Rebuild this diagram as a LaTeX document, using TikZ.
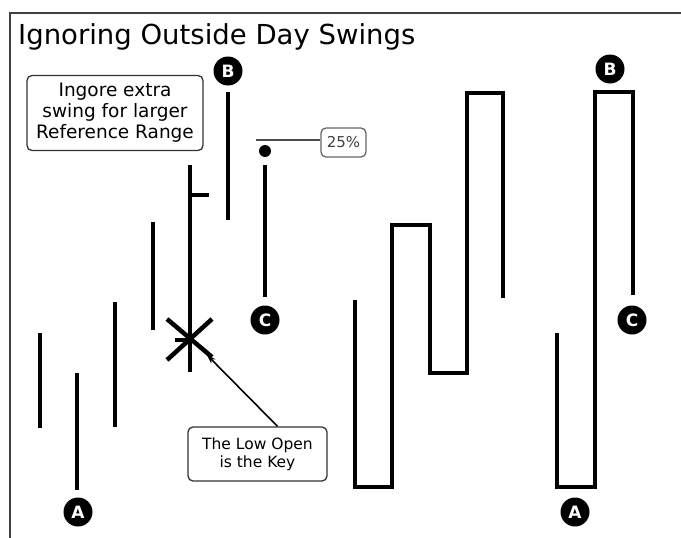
\documentclass[tikz,border=0pt]{standalone}
\usepackage{fontspec}
\setmainfont{DejaVu Sans}
\usetikzlibrary{arrows.meta}
\begin{document}
\begin{tikzpicture}[x=1pt,y=-1pt,
  bar/.style={line width=4.5pt},
  stepline/.style={line width=4.5pt, line join=miter},
  badge/.style={circle, fill=black, inner sep=0pt, minimum size=29pt, text=white, font=\bfseries\fontsize{17}{17}\selectfont},
  callout/.style={draw=black!80, line width=1.3pt, rounded corners=5pt, align=center, fill=white, inner sep=0pt}]
\useasboundingbox (0,0) rectangle (681,538);
\draw[line width=2pt, black!75] (10,538) -- (10,13) -- (681,13);
\node[anchor=base west, font=\fontsize{27.5}{27.5}\selectfont, inner sep=0pt] (title) at (18,44) {Ignoring Outside Day Swings};

% left bars
\draw[bar] (40,333) -- (40,428);
\draw[bar] (77,373) -- (77,490);
\draw[bar] (115,302) -- (115,427);
\draw[bar] (153,222) -- (153,330);
\draw[bar] (190,165) -- (190,372);
\draw[bar] (190,195) -- (209,195);
\draw[bar] (175,340) -- (190,340);
\draw[line width=4.5pt] (167,319) -- (212,357);
\draw[line width=4.5pt] (212,319) -- (167,360);
\draw[bar] (228,92) -- (228,220);
\draw[bar] (265,165) -- (265,297);
\fill (265,151) circle (6pt);
\coordinate (pctstart) at (256,140);

% right polylines
\draw[stepline] (355,300) -- (355,487) -- (392,487) -- (392,225) -- (430,225) -- (430,373) -- (467,373) -- (467,93) -- (503,93) -- (503,298);
\draw[stepline] (557,333) -- (557,487) -- (595,487) -- (595,92) -- (633,92) -- (633,295);

% badges
\node[badge] (A1) at (78,512) {A};
\node[badge] (B1) at (228,71) {B};
\node[badge] (C1) at (265,320) {C};
\node[badge] (A2) at (575,512) {A};
\node[badge] (B2) at (610,69) {B};
\node[badge] (C2) at (632,320) {C};

% callouts
\node[callout, minimum width=176pt, minimum height=75pt, font=\fontsize{18.5}{21}\selectfont] (ignore) at (115,113) {Ingore extra\\swing for larger\\Reference Range};
\node[callout, draw=black!60, minimum width=45pt, minimum height=29pt, font=\fontsize{15}{15}\selectfont, text=black!75] (pct) at (343.5,142.5) {25\%};
\draw[line width=2pt, black!70] (pctstart) -- (pctstart -| pct.west);
\node[callout, minimum width=139pt, minimum height=54pt, font=\fontsize{15.5}{18}\selectfont] (key) at (257.5,454) {The Low Open\\is the Key};
\coordinate (xmark) at (207,355);
\draw[line width=1.6pt, -{Stealth[length=9pt,width=6pt]}] (key.north) ++(20,0) -- (xmark);
\end{tikzpicture}
\end{document}
